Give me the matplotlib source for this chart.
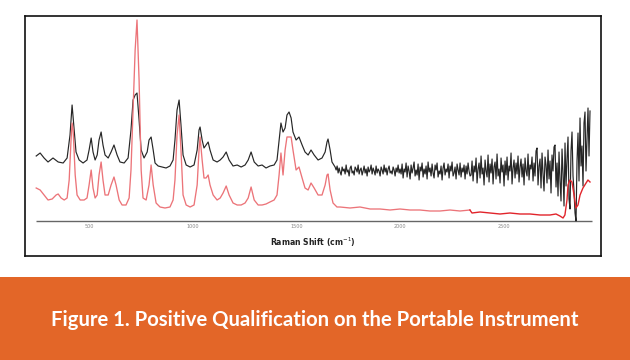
import numpy as np
import matplotlib
matplotlib.use('Agg')
import matplotlib.pyplot as plt
from matplotlib.patches import Rectangle

# --- data (Raman shift in cm-1, intensity in a.u.) ---
black_shift = [245, 264, 283, 302, 326, 351, 375, 394, 408, 418,
               428, 437, 452, 471, 490, 500, 510, 519, 529, 539,
               548, 558, 567, 577, 592, 606, 620, 635, 649, 669,
               688, 702, 712, 722, 731, 741, 751, 765, 780, 789,
               799, 809, 818, 833, 852, 871, 890, 905, 914, 924,
               934, 943, 953, 968, 987, 1006, 1021, 1030, 1035, 1045,
               1054, 1064, 1074, 1083, 1098, 1117, 1132, 1146, 1161, 1175,
               1194, 1214, 1233, 1252, 1267, 1281, 1296, 1315, 1334, 1353,
               1372, 1392, 1406, 1416, 1425, 1435, 1445, 1454, 1464, 1474,
               1483, 1498, 1512, 1527, 1541, 1556, 1570, 1585, 1604, 1623,
               1638, 1647, 1652, 1662, 1671, 1686]
black_int = [65, 68, 63, 59, 63, 59, 58, 63, 86, 116,
             91, 69, 61, 58, 61, 71, 83, 69, 61, 66,
             81, 89, 76, 66, 63, 69, 76, 66, 59, 58,
             63, 91, 121, 126, 128, 101, 71, 63, 69, 81,
             84, 71, 58, 55, 54, 53, 55, 61, 81, 111,
             121, 96, 66, 56, 54, 56, 71, 91, 94, 81,
             73, 76, 79, 71, 61, 59, 61, 64, 69, 61,
             55, 56, 54, 56, 61, 69, 59, 55, 56, 53,
             55, 56, 61, 81, 98, 89, 93, 106, 109, 103,
             89, 81, 84, 76, 69, 66, 71, 66, 61, 63,
             69, 79, 82, 71, 59, 54]

# noisy high-shift part of the black spectrum, evenly sampled 1691..2915 cm-1
black_noise = [51, 55, 48, 53, 49, 46, 54, 50, 52, 47, 56, 49, 51, 45, 53, 55, 48, 50, 46, 54,
               52, 49, 56, 47, 51, 53, 46, 50, 55, 48, 52, 45, 54, 49, 51, 56, 47, 53, 50, 46,
               55, 48, 52, 50, 45, 54, 51, 47, 56, 49, 53, 46, 52, 55, 48, 50, 47, 54, 51, 45,
               53, 49, 56, 48, 52,
               47, 57, 43, 52, 49, 58, 44, 55, 50, 42, 56, 48, 53, 59, 45, 51, 46, 57, 41, 54,
               50, 58, 44, 52, 47, 55, 42, 59, 49, 53, 45, 57, 48, 43, 56, 51, 58, 44, 50, 47,
               55, 41, 53, 58, 46, 52, 49, 57, 43, 55, 50, 59, 45, 48, 54, 42, 57, 51, 46, 58,
               44, 53, 49, 56, 42, 55, 47, 58, 50, 45,
               46, 60, 40, 55, 49, 63, 38, 52, 58, 43, 65, 47, 53, 36, 61, 50, 44, 66, 39, 57,
               48, 62, 37, 54, 59, 42, 67, 45, 52, 38, 63, 49, 56, 35, 60, 46, 64, 41, 55, 50,
               68, 37, 53, 61, 43, 58, 47, 65, 39, 54, 62, 44, 57, 36, 63, 50, 45, 67, 41, 56,
               52, 64, 40, 58, 45, 70, 73, 36, 55, 62, 33, 68, 47, 30, 64, 56, 38, 71, 42, 60,
               28, 66, 50, 74, 76, 34, 58, 25, 69, 40, 20, 72, 48, 15, 78, 35, 62, 84, 22, 12,
               70, 89, 45, 30, 8, 0, 60, 88, 40, 103, 55, 75, 35, 98, 109, 50, 80, 113, 65, 110]
noise_range = (1691, 2915)

red_shift = [245, 264, 283, 302, 322, 341, 351, 365, 380, 394,
             404, 413, 418, 423, 433, 442, 457, 476, 490, 500,
             510, 519, 529, 539, 548, 558, 567, 577, 592, 606,
             620, 630, 645, 659, 678, 693, 702, 712, 722, 731,
             741, 751, 760, 775, 789, 799, 809, 823, 842, 866,
             890, 905, 914, 924, 934, 943, 953, 968, 987, 1006,
             1021, 1030, 1035, 1045, 1054, 1064, 1074, 1083, 1098, 1117,
             1132, 1146, 1161, 1175, 1194, 1214, 1233, 1252, 1267, 1281,
             1296, 1315, 1334, 1353, 1372, 1392, 1406, 1416, 1425, 1435,
             1445, 1454, 1464, 1474, 1483, 1498, 1512, 1527, 1541, 1556,
             1570, 1585, 1604, 1623, 1638, 1647, 1652, 1662, 1676, 1695,
             1710, 1758, 1806, 1855, 1903, 1951, 1999, 2047, 2095, 2143,
             2192, 2240, 2288, 2336, 2346, 2385, 2433, 2481, 2529, 2577,
             2626, 2674, 2722, 2751, 2770, 2785, 2794, 2804, 2809, 2818,
             2828, 2838, 2847, 2857, 2867, 2881, 2896, 2905, 2915]
red_int = [33, 31, 26, 21, 22, 26, 27, 23, 21, 23,
           41, 81, 98, 91, 46, 26, 21, 21, 23, 36,
           51, 33, 23, 26, 46, 59, 41, 26, 26, 36,
           44, 36, 21, 16, 16, 23, 51, 111, 171, 201,
           141, 51, 23, 21, 36, 56, 36, 18, 14, 13,
           14, 21, 41, 86, 106, 71, 26, 16, 14, 16,
           36, 71, 84, 61, 43, 43, 46, 36, 26, 21,
           23, 28, 35, 26, 18, 16, 16, 18, 23, 34,
           21, 16, 16, 17, 19, 21, 26, 46, 68, 46,
           71, 84, 84, 84, 71, 51, 54, 43, 33, 31,
           38, 33, 26, 26, 36, 46, 47, 31, 18, 14,
           14, 13, 14, 12, 12, 11, 12, 11, 11, 10,
           10, 11, 10, 11, 8, 9, 8, 7, 8, 7,
           7, 6, 6, 7, 5, 3, 6, 21, 36, 41,
           39, 26, 13, 16, 26, 33, 38, 41, 39]
red_split = 2336   # the red trace turns deeper red beyond this shift

tick_values = [500, 1000, 1500, 2000, 2500]
xlabel = 'Raman Shift (cm$^{-1}$)'
caption = 'Figure 1. Positive Qualification on the Portable Instrument'

noise_shift = np.linspace(noise_range[0], noise_range[1], len(black_noise))
all_black_shift = np.concatenate([black_shift, noise_shift])
all_black_int = np.concatenate([black_int, black_noise])
red_shift = np.array(red_shift)
red_int = np.array(red_int)
lo = red_shift <= red_split
hi = red_shift >= red_split

fig = plt.figure(figsize=(6.3, 3.6), dpi=100)
fig.patch.set_facecolor('white')

# orange caption band
fig.patches.append(Rectangle((0, 0), 1, 83 / 360, transform=fig.transFigure,
                             facecolor='#E36628', edgecolor='none', zorder=0))
fig.text(0.5, 40 / 360, caption, ha='center', va='center', color='white',
         fontsize=14.6, fontweight='bold', family=['Lato', 'DejaVu Sans'])

# framed spectrum panel
ax = fig.add_axes([25 / 630, 1 - 256 / 360, 576 / 630, 240 / 360])
ax.set_xlim(191, 2968)
ax.set_ylim(-35, 205)
for s in ax.spines.values():
    s.set_color('#111111')
    s.set_linewidth(1.2)
ax.set_xticks([])
ax.set_yticks([])

ax.hlines(0, all_black_shift.min(), all_black_shift.max() + 10,
          color='#666666', lw=1.0, zorder=1)
ax.plot(all_black_shift, all_black_int, color='#262626', lw=0.85, zorder=2)
ax.plot(red_shift[lo], red_int[lo], color='#EC7479', lw=0.95, zorder=3)
ax.plot(red_shift[hi], red_int[hi], color='#E1242B', lw=1.0, zorder=3)

for t in tick_values:
    ax.text(t, -3, str(t), ha='center', va='top', fontsize=3.5, color='#888888')

ax.text(0.5 * (all_black_shift.min() + all_black_shift.max()), -21, xlabel,
        ha='center', va='center', fontsize=5.6, fontweight='bold', color='#222222')

fig.savefig('out.png', dpi=100)
